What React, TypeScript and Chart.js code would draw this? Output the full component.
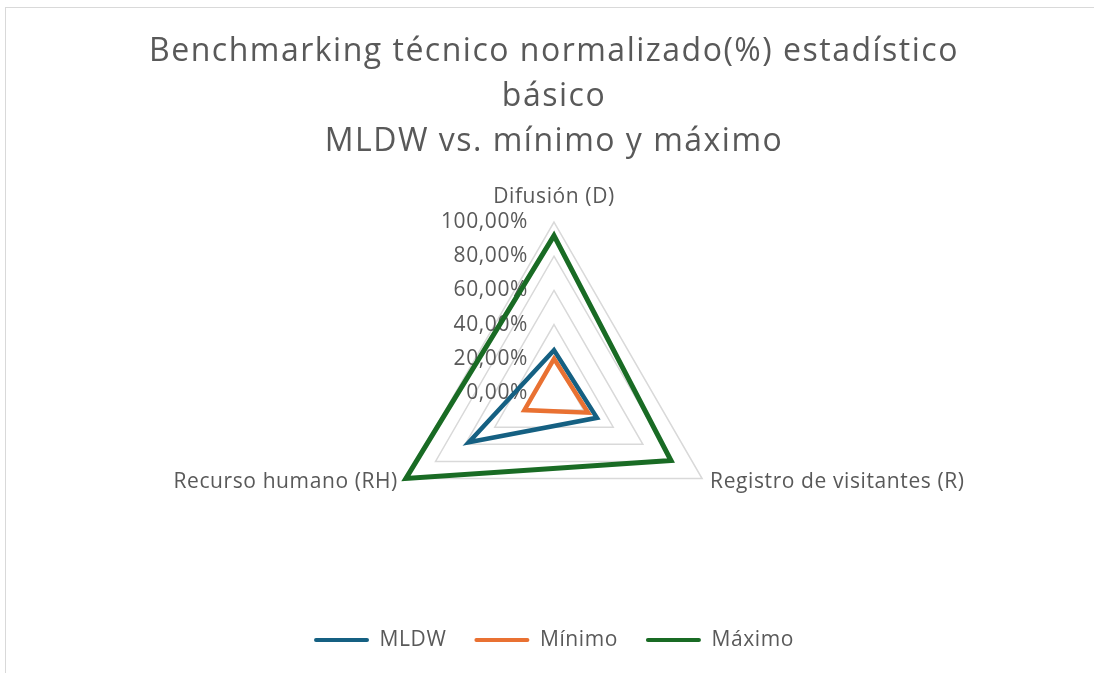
import React, { useEffect, useRef } from 'react';
import { Chart, registerables } from 'chart.js';

Chart.register(...registerables);

const categories = ['Difusión (D)', 'Registro de visitantes (R)', 'Recurso humano (RH)'];
const seriesNames = ['MLDW', 'Mínimo', 'Máximo'];
const mldwValues = [25, 29, 57.5];
const minimoValues = [20, 23, 20];
const maximoValues = [92, 79, 100];
const tickValues = [0, 20, 40, 60, 80, 100];
const titleLines = ['Benchmarking técnico normalizado(%) estadístico', 'básico', 'MLDW vs. mínimo y máximo'];
const seriesColors = ['#156082', '#E97132', '#196B24'];

const FONT = "'Open Sans', sans-serif";
const TEXT = '#595959';
const SPACING = '0.6px';

const fmt = (v: number) => v.toFixed(2).replace('.', ',') + '%';

const spacingPlugin = {
  id: 'spacing',
  beforeLayout(chart: any) {
    chart.ctx.letterSpacing = SPACING;
  },
  beforeDraw(chart: any) {
    chart.ctx.letterSpacing = SPACING;
  },
};

const radarTextPlugin = {
  id: 'radarText',
  beforeDatasetsDraw(chart: any) {
    const s = chart.scales.r;
    const ctx = chart.ctx;
    ctx.save();
    // title
    ctx.letterSpacing = '1.5px';
    ctx.font = `32px ${FONT}`;
    ctx.fillStyle = TEXT;
    ctx.textAlign = 'center';
    ctx.textBaseline = 'middle';
    titleLines.forEach((t, i) => {
      ctx.fillText(t, s.xCenter, 52 + i * 45);
    });
    ctx.letterSpacing = SPACING;
    ctx.font = `21px ${FONT}`;
    ctx.textAlign = 'right';
    tickValues.forEach((v) => {
      const d = s.getDistanceFromCenterForValue(v);
      ctx.fillText(fmt(v), s.xCenter - 26, s.yCenter - d);
    });
    categories.forEach((c, i) => {
      const p = s.getPointPosition(i, s.drawingArea);
      if (i === 0) {
        ctx.textAlign = 'center';
        ctx.fillText(c, p.x, p.y - 25);
      } else if (i === 1) {
        ctx.textAlign = 'left';
        ctx.fillText(c, p.x + 8, p.y + 4);
      } else {
        ctx.textAlign = 'right';
        ctx.fillText(c, p.x - 8, p.y + 4);
      }
    });
    ctx.restore();
  },
};

export default function App() {
  const ref = useRef<HTMLCanvasElement | null>(null);

  useEffect(() => {
    if (!ref.current) return;
    const seriesData = [mldwValues, minimoValues, maximoValues];
    const chart = new Chart(ref.current, {
      type: 'radar',
      data: {
        labels: categories,
        datasets: seriesNames.map((name, i) => ({
          label: name,
          data: seriesData[i],
          borderColor: seriesColors[i],
          backgroundColor: seriesColors[i],
          borderWidth: i === 2 ? 5 : 4.5,
          fill: false,
          pointRadius: 0,
          pointHoverRadius: 0,
          order: 3 - i,
        })),
      },
      options: {
        responsive: false,
        animation: false,
        layout: { padding: { left: 14, right: 0, top: 222, bottom: 12.5 } },
        scales: {
          r: {
            min: 0,
            max: 100,
            ticks: { stepSize: 20, display: false },
            grid: { color: '#d9d9d9', lineWidth: 1.5, circular: false },
            angleLines: { display: false },
            pointLabels: { display: false },
          },
        },
        plugins: {
          title: { display: false },
          subtitle: {
            display: true,
            text: '',
            position: 'bottom',
            weight: 500,
            font: { size: 1, lineHeight: 1 },
            padding: { top: 36.5, bottom: 0 },
          },
          legend: {
            display: true,
            position: 'bottom',
            labels: {
              boxWidth: 55,
              boxHeight: 4,
              padding: 28,
              color: TEXT,
              font: { family: FONT, size: 21 },
              generateLabels(c: any) {
                const items = (Chart as any).defaults.plugins.legend.labels.generateLabels(c);
                return items
                  .sort((a: any, b: any) => a.datasetIndex - b.datasetIndex)
                  .map((it: any) => ({ ...it, fillStyle: it.strokeStyle, lineWidth: 0, borderRadius: 2 }));
              },
            },
          },
          tooltip: { enabled: false },
        },
      },
      plugins: [spacingPlugin, radarTextPlugin],
    } as any);
    return () => chart.destroy();
  }, []);

  return (
    <div style={{ position: 'fixed', left: 0, top: 0, width: 1094, height: 673, background: '#fff', overflow: 'hidden' }}>
      <div
        style={{
          position: 'absolute',
          left: 5,
          top: 7,
          width: 1200,
          height: 800,
          borderLeft: '1px solid #d9d9d9',
          borderTop: '1px solid #d9d9d9',
        }}
      />
      <canvas ref={ref} width={1094} height={673} style={{ position: 'absolute', left: 0, top: 0, width: 1094, height: 673 }} />
    </div>
  );
}
